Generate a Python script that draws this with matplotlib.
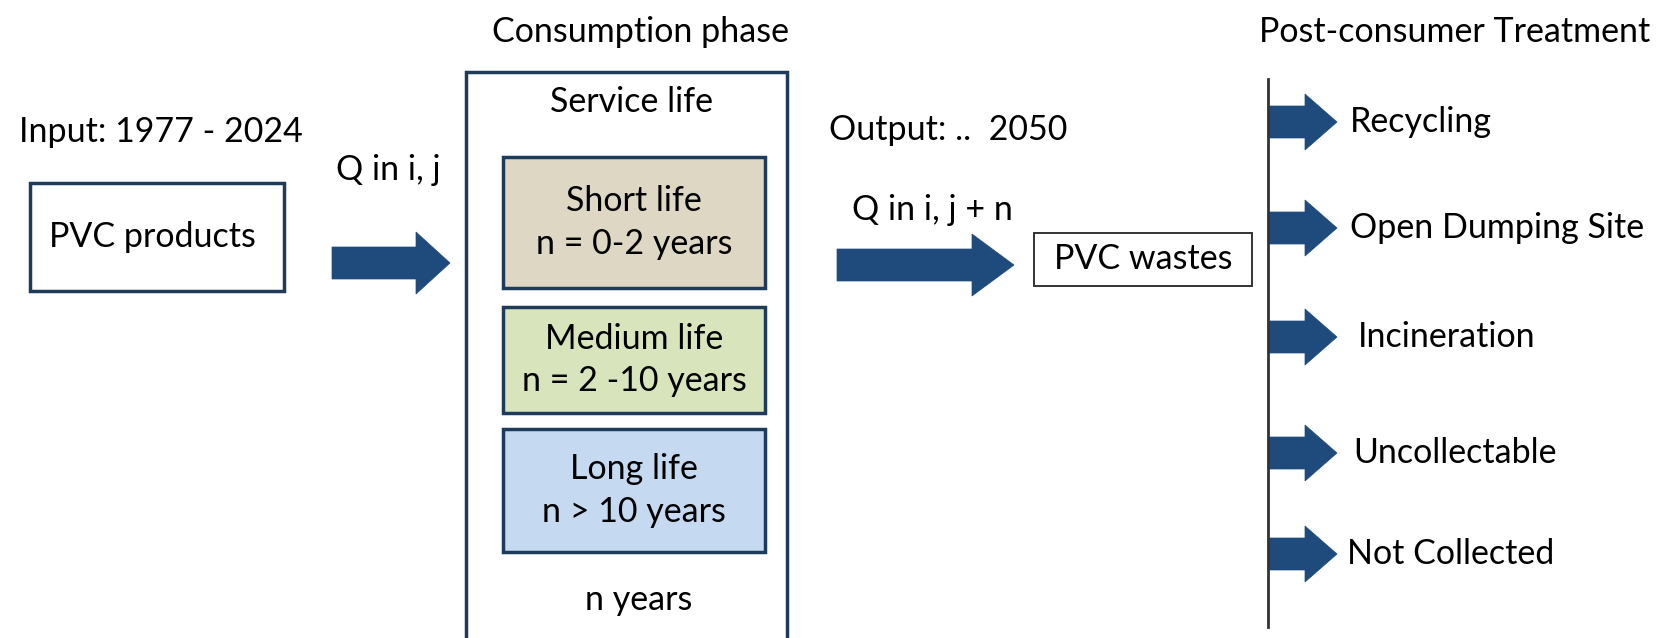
import matplotlib
matplotlib.use('Agg')
import matplotlib.pyplot as plt
import matplotlib.patches as mpatches

plt.rcParams['font.family'] = ['Lato', 'DejaVu Sans']

# ---- content ----
header_left = "Consumption phase"
header_right = "Post-consumer Treatment"
input_label = "Input: 1977 - 2024"
output_label = "Output: ..  2050"
source_box = "PVC products"
flow_in = "Q in i, j"
flow_out = "Q in i, j + n"
service_title = "Service life"
service_bottom = "n years"
life_classes = ["Short life\nn = 0-2 years", "Medium life\nn = 2 -10 years", "Long life\nn > 10 years"]
waste_box = "PVC wastes"
treatments = ["Recycling", "Open Dumping Site", "Incineration", "Uncollectable", "Not Collected"]

# ---- layout (pixel coordinates) ----
W, H = 1661, 638
arrow_col = '#1f4a7c'
edge_col = '#1f3b5c'
life_fills = ['#ddd7c4', '#d8e4bc', '#c5d9f1']
life_y = [(157, 288), (307, 413), (429, 552)]
treat_y = [122, 228, 337, 453, 554]
treat_x = [1350, 1350, 1358, 1353, 1347]
fs = 24.5

fig = plt.figure(figsize=(W / 100, H / 100), dpi=100)
ax = fig.add_axes([0, 0, 1, 1])
ax.set_xlim(0, W)
ax.set_ylim(H, 0)
ax.axis('off')

def box(x0, y0, x1, y1, fc='white', ec=edge_col, lw=2.5):
    ax.add_patch(mpatches.Rectangle((x0, y0), x1 - x0, y1 - y0, fc=fc, ec=ec, lw=lw))

def arrow(x0, x1, y, shaft, head, hlen):
    ax.add_patch(mpatches.FancyArrow(x0, y, x1 - x0, 0, width=shaft, head_width=head,
                                     head_length=hlen, length_includes_head=True,
                                     fc=arrow_col, ec=arrow_col, lw=0.5))

# headers
ax.text(640, 32, header_left, ha='center', va='center', fontsize=fs)
ax.text(1259, 32, header_right, ha='left', va='center', fontsize=fs)

# input side
ax.text(19, 132, input_label, ha='left', va='center', fontsize=fs)
box(30, 183, 284, 291)
ax.text(152, 237, source_box, ha='center', va='center', fontsize=fs)
ax.text(388, 170, flow_in, ha='center', va='center', fontsize=fs)
arrow(332, 450, 263, 32, 62, 34)

# consumption phase box
box(466, 72, 787, 660)
ax.text(631, 102, service_title, ha='center', va='center', fontsize=fs)
for lab, fill, (y0, y1) in zip(life_classes, life_fills, life_y):
    box(503, y0, 765, y1, fc=fill)
    ax.text(634, (y0 + y1) / 2, lab, ha='center', va='center', fontsize=fs,
            linespacing=1.4)
ax.text(639, 600, service_bottom, ha='center', va='center', fontsize=fs)

# output side
ax.text(829, 130, output_label, ha='left', va='center', fontsize=fs)
ax.text(932, 210, flow_out, ha='center', va='center', fontsize=fs)
arrow(837, 1014, 265, 32, 62, 42)
box(1034, 233, 1252, 286, ec='#333333', lw=1.4)
ax.text(1143, 259, waste_box, ha='center', va='center', fontsize=fs)

# treatment branch
ax.plot([1268, 1268], [79, 627], color='#333333', lw=2)
for lab, y, tx in zip(treatments, treat_y, treat_x):
    arrow(1268, 1337, y, 32, 56, 32)
    ax.text(tx, y, lab, ha='left', va='center', fontsize=fs)

fig.savefig('out.png', dpi=100)
